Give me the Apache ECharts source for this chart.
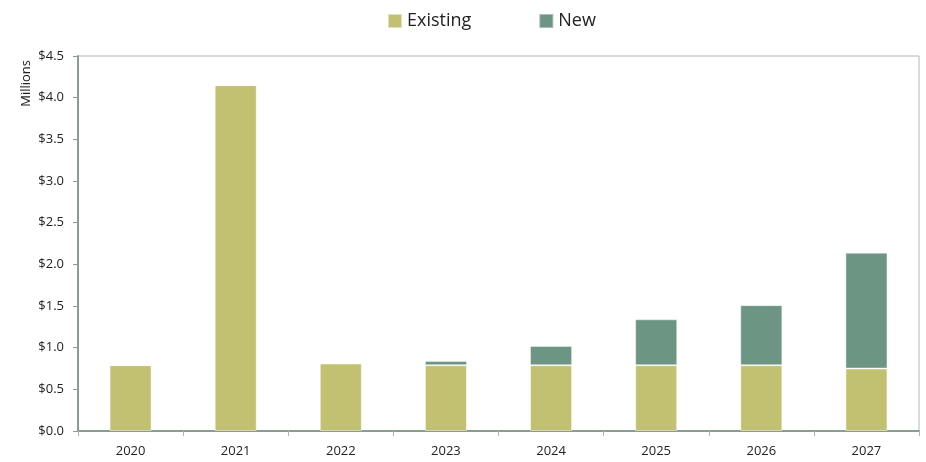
<!DOCTYPE html>
<html>
<head>
<meta charset="utf-8">
<script src="https://cdn.jsdelivr.net/npm/echarts@6/dist/echarts.min.js"></script>
<style>
  html, body { margin: 0; padding: 0; background: #fff; }
  #chart { width: 926px; height: 462px; }
</style>
</head>
<body>
<div id="chart"></div>
<script>
// Annual amounts in millions of dollars
const years = ['2020', '2021', '2022', '2023', '2024', '2025', '2026', '2027'];
const existing = [0.79, 4.15, 0.81, 0.79, 0.79, 0.79, 0.79, 0.75];
const added = [0, 0, 0, 0.05, 0.23, 0.55, 0.72, 1.39];
const yTicks = [0, 0.5, 1.0, 1.5, 2.0, 2.5, 3.0, 3.5, 4.0, 4.5];

const FONT = '"Open Sans", "Noto Sans", sans-serif';
const axisGreen = '#8a9d91';

const chart = echarts.init(document.getElementById('chart'));
chart.setOption({
  animation: false,
  textStyle: { fontFamily: FONT },
  legend: {
    top: 7,
    left: 382,
    itemGap: 67,
    itemWidth: 14,
    itemHeight: 14,
    icon: 'rect',
    textStyle: { fontSize: 18, color: '#222', fontFamily: FONT },
    data: ['Existing', 'New']
  },
  graphic: [{
    type: 'text',
    left: 20,
    top: 60,
    rotation: Math.PI / 2,
    style: { text: 'Millions', fontSize: 13, fill: '#222', fontFamily: FONT }
  }],
  grid: {
    left: 78, right: 7, top: 56, bottom: 31,
    show: true, borderColor: '#b5b5b5', borderWidth: 1
  },
  xAxis: {
    type: 'category',
    data: years,
    axisLine: { lineStyle: { color: axisGreen, width: 2 } },
    axisTick: { show: true, length: 5, lineStyle: { color: '#b5b5b5' } },
    axisLabel: { fontSize: 13, color: '#222', margin: 14 }
  },
  yAxis: {
    type: 'value',
    min: 0, max: 4.5, interval: 0.5,
    splitLine: { show: false },
    axisLine: { show: true, lineStyle: { color: axisGreen, width: 2 } },
    axisTick: { show: true, length: 5, lineStyle: { color: axisGreen } },
    axisLabel: {
      fontSize: 13, color: '#222', margin: 14,
      formatter: v => yTicks.includes(v) ? '$' + v.toFixed(1) : ''
    }
  },
  series: [
    {
      name: 'Existing', type: 'bar', stack: 'total', data: existing,
      barWidth: '40%',
      itemStyle: { color: '#c2c071', borderColor: 'rgba(255,255,255,0.5)', borderWidth: 1 }
    },
    {
      name: 'New', type: 'bar', stack: 'total', data: added,
      barWidth: '40%',
      itemStyle: { color: '#6d9584', borderColor: 'rgba(255,255,255,0.4)', borderWidth: 1 }
    }
  ]
});
</script>
</body>
</html>
